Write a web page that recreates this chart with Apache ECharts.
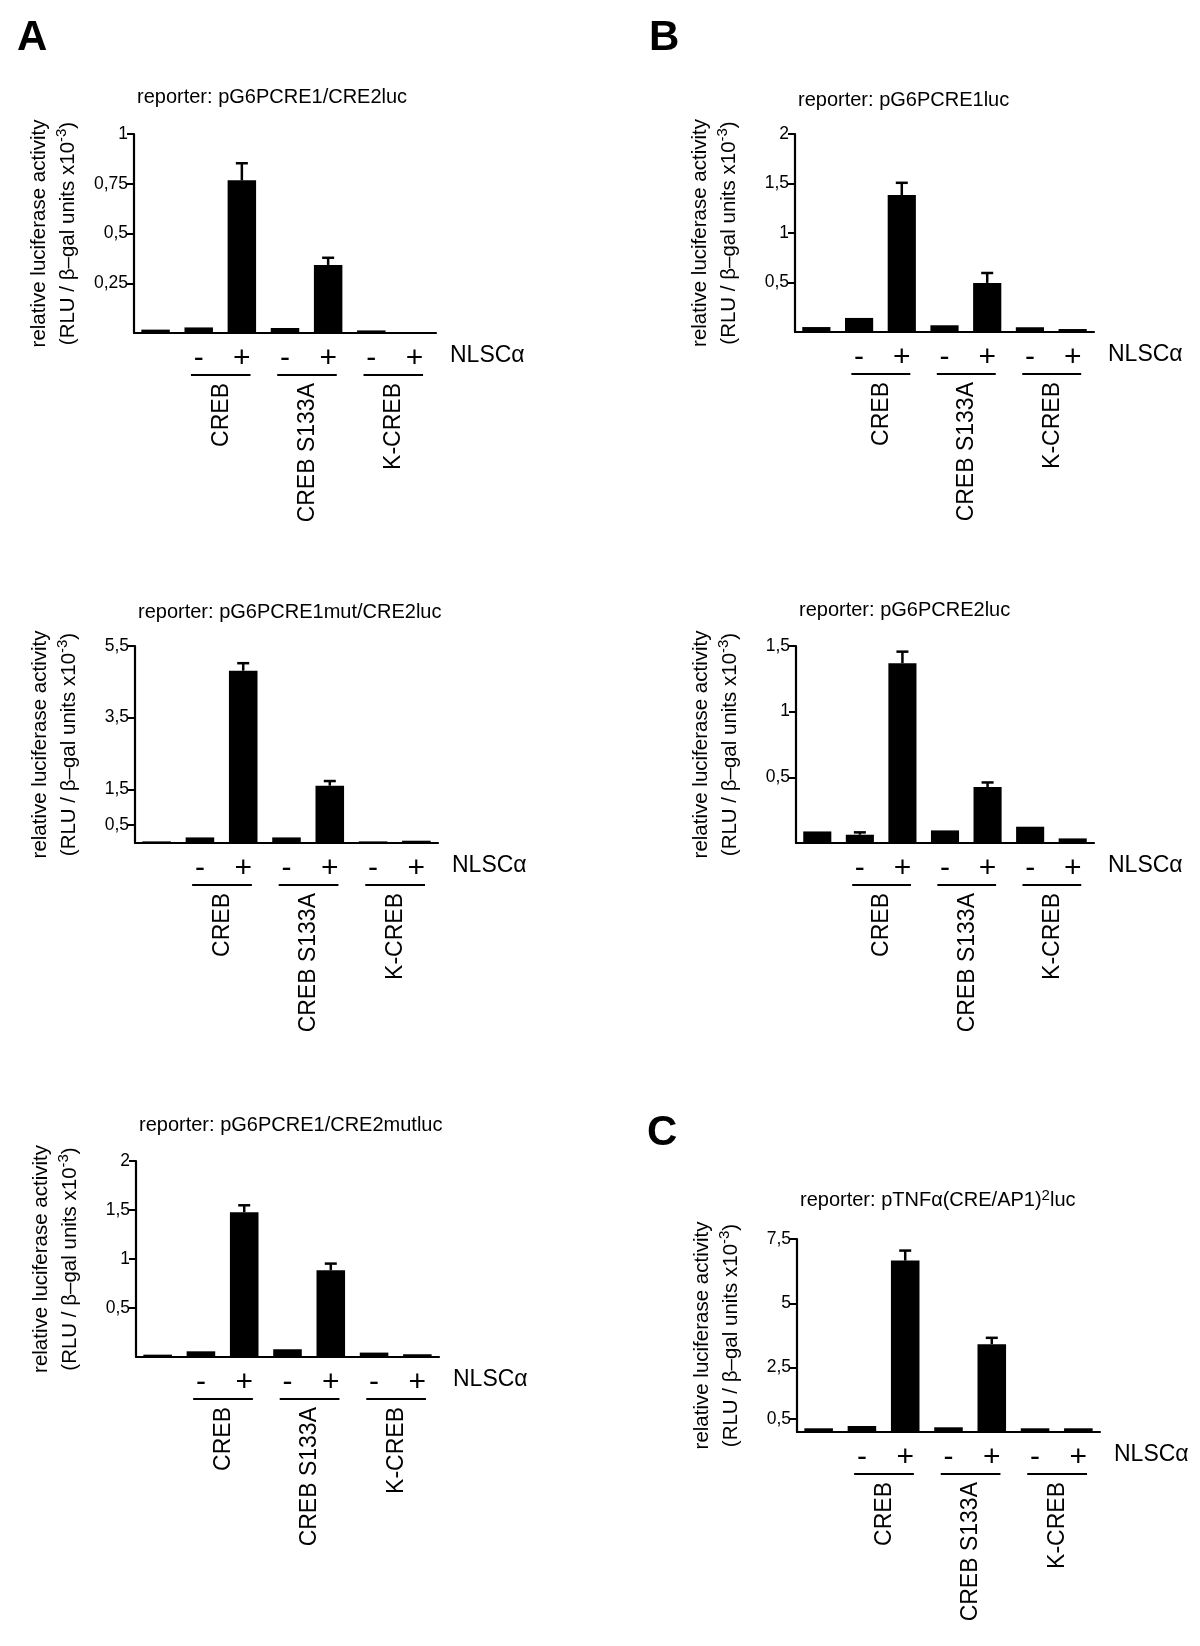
<!DOCTYPE html>
<html><head><meta charset="utf-8">
<script src="https://cdn.jsdelivr.net/npm/echarts@6/dist/echarts.min.js"></script>
<style>html,body{margin:0;padding:0;background:#fff}#c{width:1200px;height:1646px}</style>
</head><body><div id="c"></div>
<script>
// ---------- data ----------
const signs = ['', '-', '+', '-', '+', '-', '+'];
const groups = ['CREB', 'CREB S133A', 'K-CREB'];
const factorName = 'NLSCα';
const yTitle1 = 'relative luciferase activity';
const yTitle2a = '(RLU / β–gal units x10';
const yTitle2sup = '-3';
const yTitle2b = ')';
const panelLetters = ['A', 'B', 'C'];

const titleA1 = 'reporter: pG6PCRE1/CRE2luc';
const valuesA1 = [0.017, 0.028, 0.767, 0.025, 0.342, 0.013, 0.003];
const errorsA1 = [null, null, 0.086, null, 0.036, null, null];
const ticksA1 = [0.25, 0.5, 0.75, 1];

const titleB1 = 'reporter: pG6PCRE1luc';
const valuesB1 = [0.05, 0.142, 1.383, 0.068, 0.496, 0.048, 0.03];
const errorsB1 = [null, null, 0.124, null, 0.10, null, null];
const ticksB1 = [0.5, 1, 1.5, 2];

const titleA2 = 'reporter: pG6PCRE1mut/CRE2luc';
const valuesA2 = [0.045, 0.156, 4.81, 0.156, 1.60, 0.045, 0.064];
const errorsA2 = [null, null, 0.21, null, 0.13, null, null];
const ticksA2 = [0.5, 1.5, 3.5, 5.5];

const titleB2 = 'reporter: pG6PCRE2luc';
const valuesB2 = [0.088, 0.063, 1.369, 0.096, 0.426, 0.124, 0.035];
const errorsB2 = [null, 0.018, 0.088, null, 0.035, null, null];
const ticksB2 = [0.5, 1, 1.5];

const titleA3 = 'reporter: pG6PCRE1/CRE2mutluc';
const valuesA3 = [0.024, 0.058, 1.477, 0.079, 0.885, 0.045, 0.028];
const errorsA3 = [null, null, 0.071, null, 0.068, null, null];
const ticksA3 = [0.5, 1, 1.5, 2];

const titleC_a = 'reporter: pTNFα(CRE/AP1)';
const titleC_sup = '2';
const titleC_b = 'luc';
const valuesC = [0.144, 0.233, 6.66, 0.183, 3.41, 0.144, 0.144];
const errorsC = [null, null, 0.39, null, 0.25, null, null];
const ticksC = [0.5, 2.5, 5, 7.5];

// ---------- layout (pixels) ----------
const layout = [
  {x0: 134, x1: 436, y0: 134, y1: 333, ty: 85},
  {x0: 795, x1: 1094, y0: 134, y1: 332, ty: 88},
  {x0: 135, x1: 438, y0: 646, y1: 843, ty: 600},
  {x0: 796, x1: 1094, y0: 646, y1: 843, ty: 598},
  {x0: 136, x1: 439, y0: 1161, y1: 1357, ty: 1113},
  {x0: 797, x1: 1100, y0: 1239, y1: 1432, ty: 1188}
];
const letterPos = [[17, 17], [649, 17], [647, 1112]];

const FONT = '"Liberation Sans", Arial, Helvetica, sans-serif';

const panels = [
  {title: '{a|' + titleA1 + '}', values: valuesA1, errors: errorsA1, ticks: ticksA1},
  {title: '{a|' + titleB1 + '}', values: valuesB1, errors: errorsB1, ticks: ticksB1},
  {title: '{a|' + titleA2 + '}', values: valuesA2, errors: errorsA2, ticks: ticksA2},
  {title: '{a|' + titleB2 + '}', values: valuesB2, errors: errorsB2, ticks: ticksB2},
  {title: '{a|' + titleA3 + '}', values: valuesA3, errors: errorsA3, ticks: ticksA3},
  {title: '{a|' + titleC_a + '}{s|' + titleC_sup + '}{a|' + titleC_b + '}', values: valuesC, errors: errorsC, ticks: ticksC}
];

const fmt = v => String(v).replace('.', ',');

const chart = echarts.init(document.getElementById('c'), null, {renderer: 'canvas'});

const option = {
  animation: false,
  backgroundColor: '#fff',
  textStyle: {fontFamily: FONT, color: '#000'},
  title: panels.map((p, i) => ({
    text: p.title,
    left: layout[i].x0 + 3,
    top: layout[i].ty,
    padding: 0,
    textStyle: {
      rich: {
        a: {fontFamily: FONT, fontSize: 20, color: '#000', lineHeight: 24, fontWeight: 'normal'},
        s: {fontFamily: FONT, fontSize: 15, color: '#000', lineHeight: 13, verticalAlign: 'top', fontWeight: 'normal'}
      }
    }
  })),
  grid: layout.map(l => ({
    left: l.x0, top: l.y0, width: l.x1 - l.x0, height: l.y1 - l.y0, containLabel: false
  })),
  xAxis: panels.map((p, i) => ({
    type: 'category', gridIndex: i, data: signs,
    axisLine: {show: true, lineStyle: {color: '#000', width: 2.2}},
    axisTick: {show: false},
    axisLabel: {interval: 0, fontSize: 30, color: '#000', fontFamily: FONT, margin: 11}
  })),
  yAxis: panels.map((p, i) => ({
    type: 'value', gridIndex: i, min: 0, max: p.ticks[p.ticks.length - 1],
    splitLine: {show: false},
    axisLine: {show: true, lineStyle: {color: '#000', width: 2.2}},
    axisTick: {show: true, length: 7, lineStyle: {color: '#000', width: 2}, customValues: p.ticks},
    axisLabel: {fontSize: 17.5, color: '#000', fontFamily: FONT, margin: 6, customValues: p.ticks,
      formatter: v => (p.ticks.some(t => Math.abs(t - v) < 1e-9) ? fmt(v) : '')},
    name: '{a|' + yTitle1 + '}\n{a|' + yTitle2a + '}{s|' + yTitle2sup + '}{a|' + yTitle2b + '}',
    nameLocation: 'middle', nameRotate: 90, nameGap: 51,
    nameTextStyle: {
      rich: {
        a: {fontFamily: FONT, fontSize: 20.5, color: '#000', lineHeight: 29},
        s: {fontFamily: FONT, fontSize: 15, color: '#000', lineHeight: 15, verticalAlign: 'top'}
      }
    }
  })),
  series: []
};

panels.forEach((p, i) => {
  option.series.push({
    type: 'bar', xAxisIndex: i, yAxisIndex: i, data: p.values,
    barWidth: '66%', itemStyle: {color: '#000'}, silent: true
  });
  option.series.push({
    type: 'custom', xAxisIndex: i, yAxisIndex: i, z: 3, silent: true,
    encode: {x: 0, y: 1},
    data: p.errors.map((e, k) => (e == null ? null : [k, p.values[k], e])).filter(Boolean),
    renderItem: (params, api) => {
      const x = api.value(0), v = api.value(1), e = api.value(2);
      const p0 = api.coord([x, v]);
      const p1 = api.coord([x, v + e]);
      const hw = 6;
      const st = {stroke: '#000', lineWidth: 2.5};
      return {type: 'group', children: [
        {type: 'line', shape: {x1: p0[0], y1: p0[1], x2: p1[0], y2: p1[1]}, style: st},
        {type: 'line', shape: {x1: p1[0] - hw, y1: p1[1], x2: p1[0] + hw, y2: p1[1]}, style: st}
      ]};
    }
  });
});

chart.setOption(option);

// ---------- annotations positioned from the axes ----------
const graphics = [];
panels.forEach((p, i) => {
  const px = k => chart.convertToPixel({gridIndex: i}, [k, 0]);
  const band = px(1)[0] - px(0)[0];
  const base = px(0)[1];
  const endX = layout[i].x1;
  graphics.push({
    type: 'text', x: endX + 14, y: base + 23,
    style: {text: factorName, fontFamily: FONT, fontSize: 23, fill: '#000', align: 'left', verticalAlign: 'middle'}
  });
  groups.forEach((g, gi) => {
    const a = px(1 + gi * 2)[0], b = px(2 + gi * 2)[0];
    const ly = base + 42;
    graphics.push({
      type: 'line', shape: {x1: a - 0.18 * band, y1: ly, x2: b + 0.2 * band, y2: ly},
      style: {stroke: '#000', lineWidth: 2.2}
    });
    graphics.push({
      type: 'text', x: (a + b) / 2 + 1, y: ly + 8, rotation: Math.PI / 2,
      style: {text: g, fontFamily: FONT, fontSize: 23, fill: '#000', align: 'right', verticalAlign: 'middle'}
    });
  });
});
panelLetters.forEach((t, k) => {
  graphics.push({
    type: 'text', x: letterPos[k][0], y: letterPos[k][1],
    style: {text: t, fontFamily: FONT, fontSize: 42, fontWeight: 'bold', fill: '#000', align: 'left', verticalAlign: 'top'}
  });
});
chart.setOption({graphic: graphics});
</script>
</body></html>
